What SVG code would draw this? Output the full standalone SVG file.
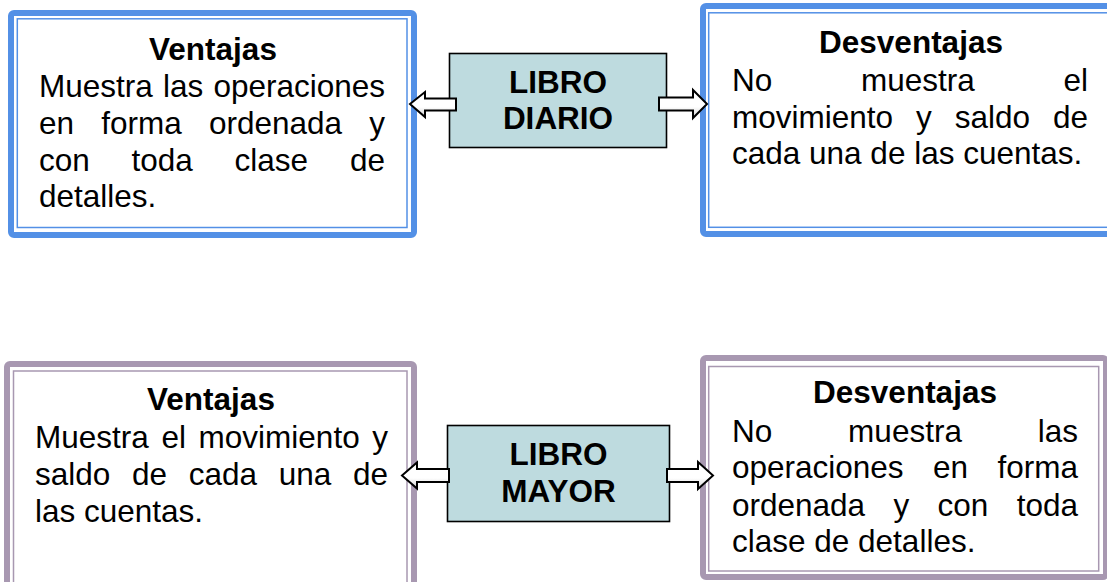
<svg xmlns="http://www.w3.org/2000/svg" width="1107" height="582" viewBox="0 0 1107 582">
<style>
.bg{fill:#ffffff}
.ob{fill:#ffffff;stroke:#5390E6;stroke-width:6}
.ib{fill:none;stroke:#5390E6;stroke-width:1.5}
.op{fill:#ffffff;stroke:#A898B1;stroke-width:6}
.ip{fill:none;stroke:#A898B1;stroke-width:1.5}
.core{fill:#BEDBDF;stroke:#000;stroke-width:1.6}
.t{font-family:"Liberation Sans",Arial,sans-serif;font-size:31.5px;fill:#000}
.h{font-family:"Liberation Sans",Arial,sans-serif;font-size:31.5px;font-weight:bold;fill:#000;text-anchor:middle}
.arr{fill:url(#ag);stroke:#000;stroke-width:2;stroke-linejoin:miter}
</style>
<defs>
<linearGradient id="ag" x1="0" y1="0" x2="0" y2="1">
<stop offset="0" stop-color="#ffffff"/>
<stop offset="0.6" stop-color="#ffffff"/>
<stop offset="1" stop-color="#d0d0d0"/>
</linearGradient>
</defs>
<rect class="bg" x="0" y="0" width="1107" height="582"/>

<g id="diario-ventajas">
<rect class="ob" x="11" y="13" width="403" height="222" rx="3"/>
<rect class="ib" x="17.3" y="18.8" width="389.7" height="208.7"/>
<text class="h" x="213" y="59.5">Ventajas</text>
<text class="t" x="39" y="97" word-spacing="1.45">Muestra las operaciones</text>
<text class="t" x="39" y="134" word-spacing="18.45">en forma ordenada y</text>
<text class="t" x="39" y="171" word-spacing="33">con toda clase de</text>
<text class="t" x="39" y="207">detalles.</text>
</g>

<g id="diario-desventajas">
<rect class="ob" x="703" y="6" width="412" height="228" rx="3"/>
<rect class="ib" x="708.7" y="12.8" width="410" height="214.5"/>
<text class="h" x="911" y="53">Desventajas</text>
<text class="t" x="732" y="91" word-spacing="79.97">No muestra el</text>
<text class="t" x="732" y="128" word-spacing="14.2">movimiento y saldo de</text>
<text class="t" x="732" y="164">cada una de las cuentas.</text>
</g>

<g id="libro-diario">
<rect class="core" x="449.5" y="53.5" width="217" height="94"/>
<text class="h" x="558" y="93">LIBRO</text>
<text class="h" x="558" y="129">DIARIO</text>
</g>

<g id="mayor-ventajas">
<rect class="op" x="7" y="364" width="407" height="230" rx="3"/>
<rect class="ip" x="13.5" y="371" width="393.5" height="220"/>
<text class="h" x="211" y="410">Ventajas</text>
<text class="t" x="35" y="448" word-spacing="3.9">Muestra el movimiento y</text>
<text class="t" x="35" y="485" word-spacing="12.95">saldo de cada una de</text>
<text class="t" x="35" y="522">las cuentas.</text>
</g>

<g id="mayor-desventajas">
<rect class="op" x="703" y="358" width="403" height="219" rx="3"/>
<rect class="ip" x="708.7" y="366.5" width="390" height="204.5"/>
<text class="h" x="905" y="403">Desventajas</text>
<text class="t" x="732" y="442" word-spacing="67.1">No muestra las</text>
<text class="t" x="732" y="478" word-spacing="20.7">operaciones en forma</text>
<text class="t" x="732" y="516" word-spacing="19.6">ordenada y con toda</text>
<text class="t" x="732" y="552">clase de detalles.</text>
</g>

<g id="libro-mayor">
<rect class="core" x="447.5" y="425.5" width="222" height="96"/>
<text class="h" x="558.5" y="465">LIBRO</text>
<text class="h" x="558.5" y="502">MAYOR</text>
</g>

<g id="connectors">
<path class="arr" d="M410,104 L425,92 L425,98.5 L456,98.5 L456,110.5 L425,110.5 L425,117 Z"/>
<path class="arr" d="M659,97.5 L693,97.5 L693,90 L707,104 L693,118 L693,110.5 L659,110.5 Z"/>
<path class="arr" d="M402,475.5 L417,462.5 L417,469 L449,469 L449,482 L417,482 L417,488.5 Z"/>
<path class="arr" d="M667,469 L698,469 L698,462 L713,475.5 L698,489 L698,482 L667,482 Z"/>
</g>
</svg>
